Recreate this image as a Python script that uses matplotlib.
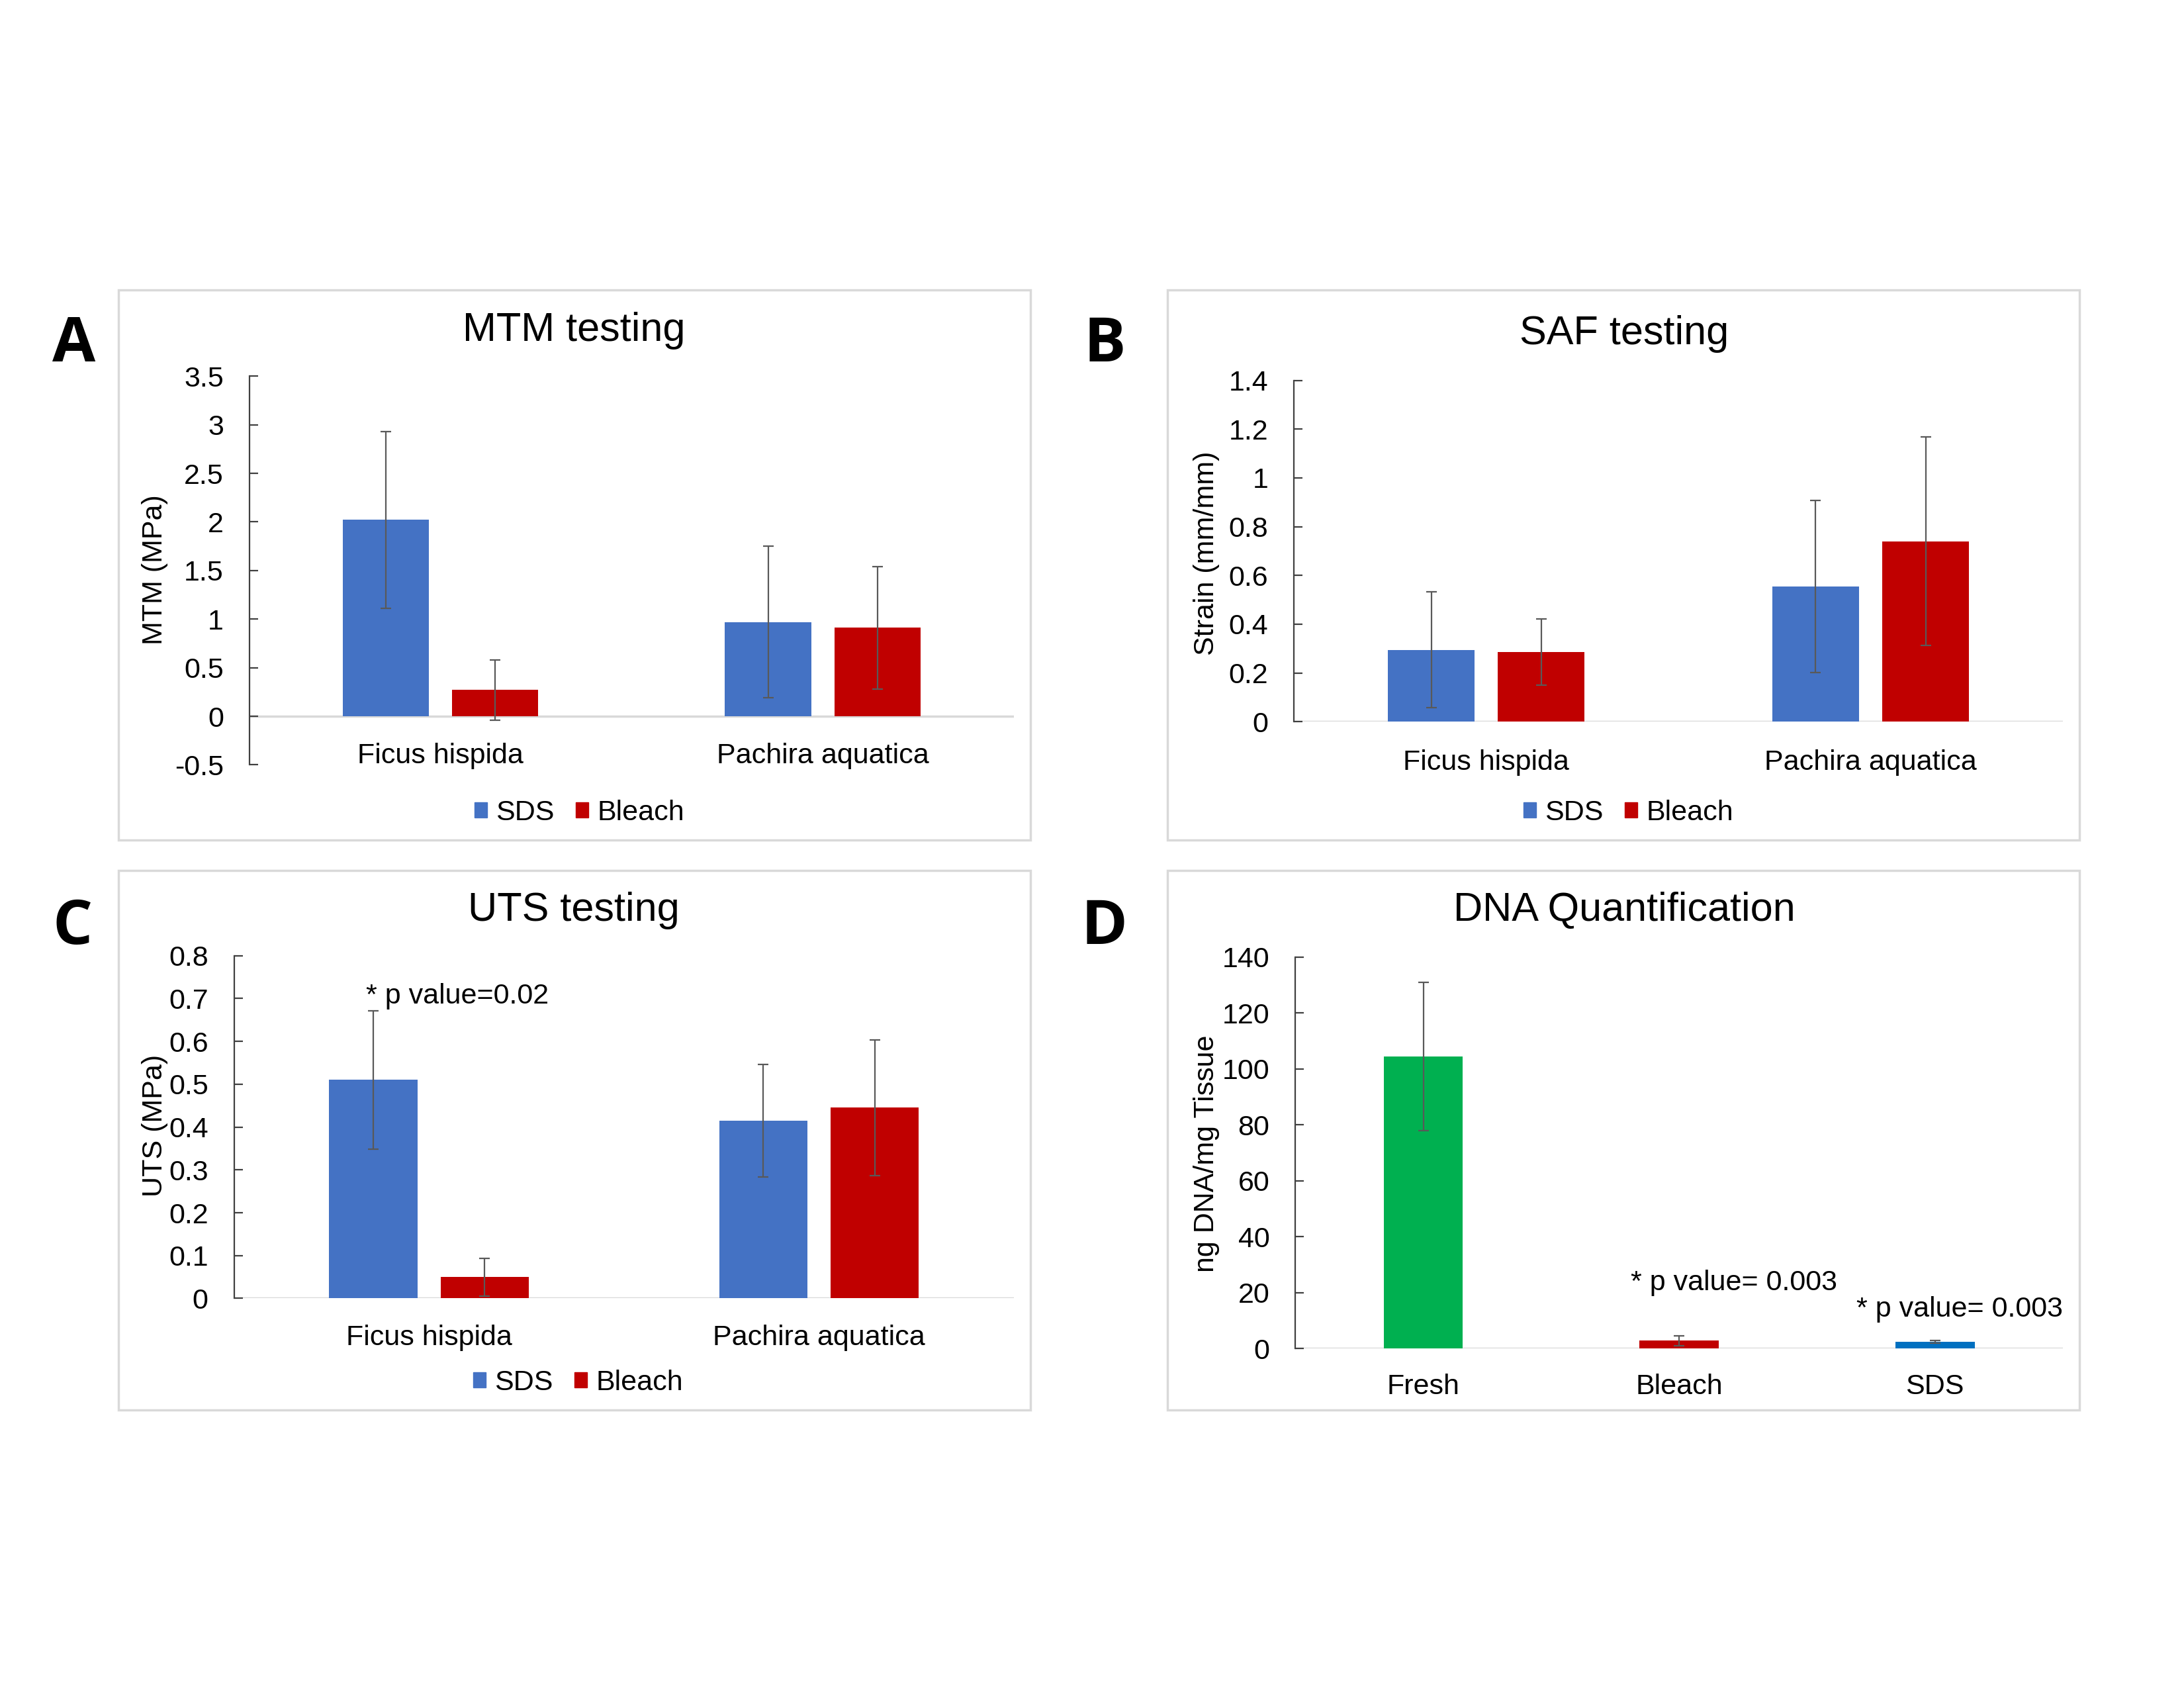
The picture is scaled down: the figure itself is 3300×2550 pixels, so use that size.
import matplotlib
matplotlib.use("Agg")
import matplotlib.pyplot as plt
from matplotlib.patches import Rectangle, Patch
from matplotlib.transforms import blended_transform_factory
import numpy as np

plt.rcParams['font.family'] = ['Liberation Sans', 'DejaVu Sans']

# ---------------- data ----------------
species = ["Ficus hispida", "Pachira aquatica"]
treatments = ["SDS", "Bleach"]

mtm_sds = [2.02, 0.97]
mtm_sds_err = [0.91, 0.78]
mtm_bleach = [0.27, 0.91]
mtm_bleach_err = [0.31, 0.63]

saf_sds = [0.295, 0.555]
saf_sds_err = [0.237, 0.353]
saf_bleach = [0.285, 0.74]
saf_bleach_err = [0.135, 0.428]

uts_sds = [0.51, 0.415]
uts_sds_err = [0.161, 0.131]
uts_bleach = [0.05, 0.445]
uts_bleach_err = [0.044, 0.158]

dna_groups = ["Fresh", "Bleach", "SDS"]
dna_values = [104.5, 2.8, 2.4]
dna_err = [26.5, 1.7, 0.4]

mtm_ticks = [-0.5, 0, 0.5, 1, 1.5, 2, 2.5, 3, 3.5]
mtm_ticklabels = ["-0.5", "0", "0.5", "1", "1.5", "2", "2.5", "3", "3.5"]
saf_ticks = [0, 0.2, 0.4, 0.6, 0.8, 1.0, 1.2, 1.4]
saf_ticklabels = ["0", "0.2", "0.4", "0.6", "0.8", "1", "1.2", "1.4"]
uts_ticks = [0, 0.1, 0.2, 0.3, 0.4, 0.5, 0.6, 0.7, 0.8]
uts_ticklabels = ["0", "0.1", "0.2", "0.3", "0.4", "0.5", "0.6", "0.7", "0.8"]
dna_ticks = [0, 20, 40, 60, 80, 100, 120, 140]
dna_ticklabels = ["0", "20", "40", "60", "80", "100", "120", "140"]

# ---------------- style ----------------
BLUE = "#4472C4"
RED = "#C00000"
GREEN = "#00B050"
SDSBLUE = "#0070C0"
ERRC = "#595959"
GRID = "#D9D9D9"
FS = 31
TFS = 44

W = 1568.0
H = W * 2550 / 3300.0
TY = 2.5  # small downward text offset


def fx(x):
    return x / W


def fy(y):
    return 1 - y / H


fig = plt.figure(figsize=(33, 25.5), dpi=100)
fig.patch.set_facecolor("white")

# panel boxes
for (x0, y0, x1, y1) in [(85, 208, 740, 603), (838, 208, 1493, 603),
                         (85, 625, 740, 1012), (838, 625, 1493, 1012)]:
    fig.patches.append(Rectangle((fx(x0), fy(y1)), fx(x1) - fx(x0), fy(y0) - fy(y1),
                                 transform=fig.transFigure, fill=False,
                                 edgecolor=GRID, lw=2.5, zorder=0))

# panel letters
for letter, (x, y) in zip("ABCD", [(53, 245), (793, 245), (52, 663), (793, 663)]):
    fig.text(fx(x), fy(y + 3), letter, fontsize=68, fontweight="bold",
             ha="center", va="center", family=["Open Sans", "Liberation Sans"])


def make_axes(l, r, t, b):
    ax = fig.add_axes([fx(l), fy(b), fx(r) - fx(l), fy(t) - fy(b)])
    ax.set_facecolor("none")
    for s in ["top", "right", "bottom"]:
        ax.spines[s].set_visible(False)
    ax.spines["left"].set_color("#404040")
    ax.spines["left"].set_linewidth(1.6)
    ax.tick_params(axis="y", direction="in", length=9, width=1.6, color="#404040",
                   labelsize=FS, pad=28)
    ax.tick_params(axis="x", length=0, labelbottom=False)
    ax.axhline(0, color=GRID, lw=2.5, zorder=1)
    return ax


EKW = dict(ecolor=ERRC, elinewidth=1.6, capsize=6, capthick=1.6)


def grouped(ax, sds, sdse, bl, ble, ylim, ticks, tlabels):
    x = np.arange(len(species)) + 0.5
    w = 0.226
    off = 0.143
    ax.bar(x - off, sds, w, color=BLUE, yerr=sdse, error_kw=EKW, zorder=2)
    ax.bar(x + off, bl, w, color=RED, yerr=ble, error_kw=EKW, zorder=2)
    ax.set_xlim(0, len(species))
    ax.set_ylim(*ylim)
    ax.set_yticks(ticks)
    ax.set_yticklabels(tlabels)
    return x


def cat_labels(ax, xs, labels, ypix):
    tr = blended_transform_factory(ax.transData, fig.transFigure)
    for xi, lab in zip(xs, labels):
        ax.text(xi, fy(ypix + TY), lab, transform=tr, ha="center", va="center", fontsize=FS)


def legend(xc, ypix):
    handles = [Patch(color=BLUE, label="SDS"), Patch(color=RED, label="Bleach")]
    fig.legend(handles=handles, loc="center", bbox_to_anchor=(fx(xc), fy(ypix + TY)),
               ncol=2, frameon=False, fontsize=FS, handlelength=0.45, handleheight=0.45,
               handletextpad=0.3, columnspacing=0.75, borderaxespad=0)


def title(x, y, s):
    fig.text(fx(x), fy(y + TY), s, fontsize=TFS, ha="center", va="center")


def ylabel(x, y, s):
    fig.text(fx(x), fy(y), s, fontsize=FS, rotation=90, ha="center", va="center")


# ---- A: MTM ----
axA = make_axes(179, 728, 270, 549)
xa = grouped(axA, mtm_sds, mtm_sds_err, mtm_bleach, mtm_bleach_err,
             (-0.5, 3.5), mtm_ticks, mtm_ticklabels)
cat_labels(axA, xa, species, 540)
title(412, 235, "MTM testing")
ylabel(111, 409, "MTM (MPa)")
legend(416, 581)

# ---- B: SAF ----
axB = make_axes(929, 1481, 273, 518)
xb = grouped(axB, saf_sds, saf_sds_err, saf_bleach, saf_bleach_err,
             (0, 1.4), saf_ticks, saf_ticklabels)
cat_labels(axB, xb, species, 545)
title(1166, 237, "SAF testing")
ylabel(866, 397, "Strain (mm/mm)")
legend(1169, 581)

# ---- C: UTS ----
axC = make_axes(168, 728, 686, 932)
xc = grouped(axC, uts_sds, uts_sds_err, uts_bleach, uts_bleach_err,
             (0, 0.8), uts_ticks, uts_ticklabels)
cat_labels(axC, xc, species, 958)
title(412, 651, "UTS testing")
ylabel(111, 808, "UTS (MPa)")
axC.text(0.339, 0.705, "* p value=0.02", fontsize=FS, ha="left", va="center")
legend(415, 990)

# ---- D: DNA ----
axD = make_axes(930, 1481, 687, 968)
xd = np.arange(len(dna_groups)) + 0.5
axD.bar(xd, dna_values, 0.31, color=[GREEN, RED, SDSBLUE], yerr=dna_err,
        error_kw=EKW, zorder=2)
axD.set_xlim(0, len(dna_groups))
axD.set_ylim(0, 140)
axD.set_yticks(dna_ticks)
axD.set_yticklabels(dna_ticklabels)
cat_labels(axD, xd, dna_groups, 993)
title(1166, 651, "DNA Quantification")
ylabel(866, 828, "ng DNA/mg Tissue")
axD.text(1.312, 23.6, "* p value= 0.003", fontsize=FS, ha="left", va="center", clip_on=False)
axD.text(2.194, 14.1, "* p value= 0.003", fontsize=FS, ha="left", va="center", clip_on=False)

fig.savefig("out.png", dpi=100, facecolor="white")
